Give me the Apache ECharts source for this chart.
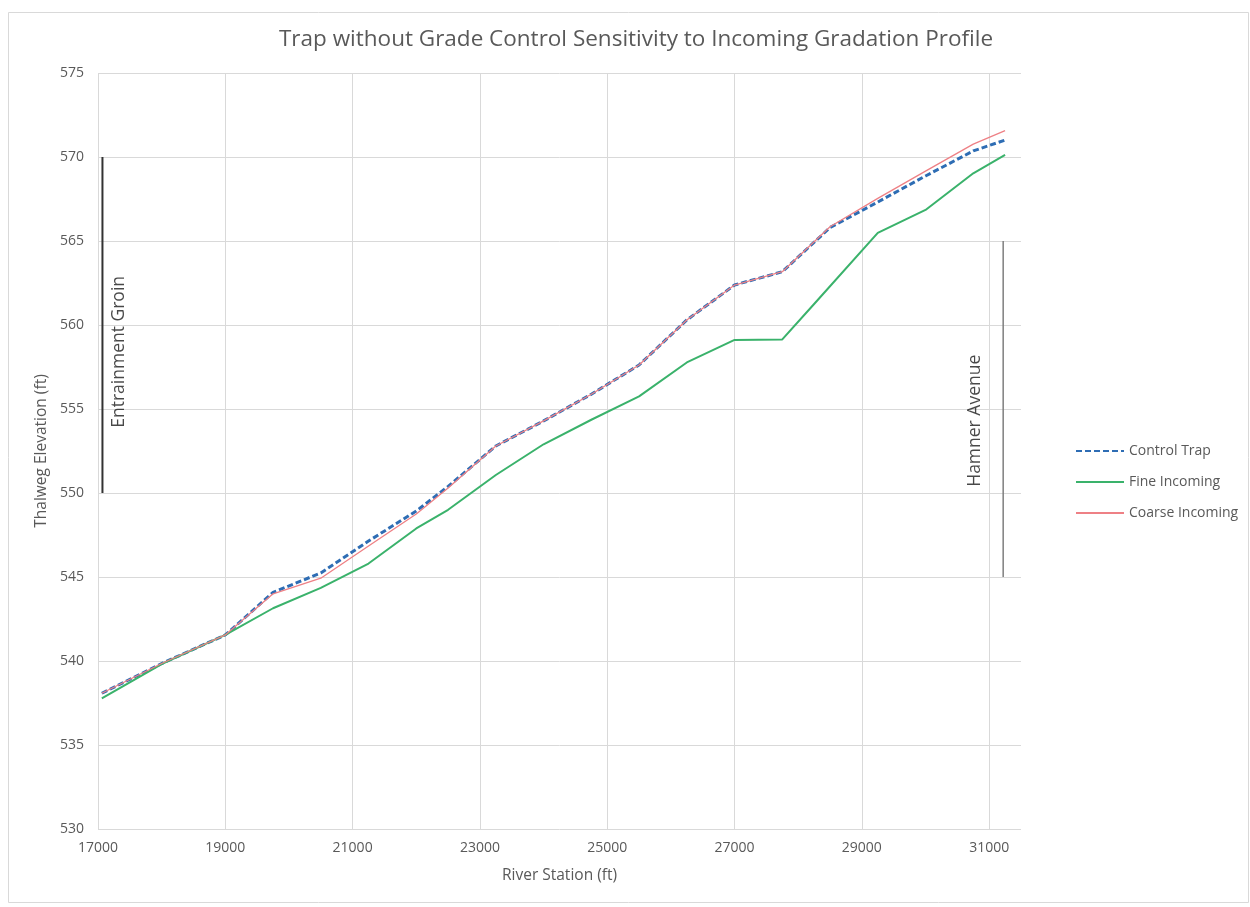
<!DOCTYPE html>
<html>
<head>
<meta charset="utf-8">
<script src="https://cdn.jsdelivr.net/npm/echarts@6/dist/echarts.min.js"></script>
<style>
html,body{margin:0;padding:0;background:#fff;}
#chart{width:1250px;height:907px;}
</style>
</head>
<body>
<div id="chart"></div>
<script>
var titleText = 'Trap without Grade Control Sensitivity to Incoming Gradation Profile';
var seriesNames = ['Control Trap', 'Fine Incoming', 'Coarse Incoming'];

var controlStations = [17060, 18000, 19000, 19750, 20500, 21250, 22000, 22500, 23250, 24000, 24750, 25500, 26250, 27000, 27750, 28500, 29250, 30000, 30750, 31250];
var controlTrap = [538.08, 539.85, 541.55, 544.09, 545.24, 547.14, 548.93, 550.39, 552.80, 554.29, 555.88, 557.62, 560.30, 562.38, 563.17, 565.80, 567.32, 568.87, 570.36, 571.01];

var fineStations = [17060, 18000, 19000, 19750, 20500, 21250, 22000, 22500, 23250, 24000, 24750, 25500, 26250, 27000, 27750, 28250, 29250, 30000, 30750, 31250];
var fineIncoming = [537.78, 539.82, 541.55, 543.14, 544.35, 545.80, 547.89, 549.00, 551.07, 552.90, 554.36, 555.75, 557.77, 559.11, 559.14, 561.25, 565.48, 566.85, 569.03, 570.12];

var coarseStations = [17060, 18000, 19000, 19750, 20500, 21250, 22000, 22500, 23250, 24000, 24750, 25500, 26250, 27000, 27750, 28500, 29250, 30000, 30750, 31250];
var coarseIncoming = [538.08, 539.85, 541.55, 544.00, 544.93, 546.85, 548.75, 550.30, 552.80, 554.29, 555.88, 557.62, 560.30, 562.38, 563.17, 565.85, 567.54, 569.16, 570.77, 571.57];

var groinStation = [17070, 17070];
var groinElev = [550, 570];
var groinLabel = 'Entrainment Groin';
var groinLabelPos = [17330, 558.4];

var hamnerStation = [31220, 31220];
var hamnerElev = [545, 565];
var hamnerLabel = 'Hamner Avenue';
var hamnerLabelPos = [30770, 554.3];

var xMin = 17000, xMax = 31500, xInterval = 2000;
var yMin = 530, yMax = 575, yInterval = 5;

function pairs(xs, ys) { return xs.map(function (x, i) { return [x, ys[i]]; }); }

var FONT = '"Open Sans", "Liberation Sans", sans-serif';
var chart = echarts.init(document.getElementById('chart'), null, {renderer: 'canvas'});
chart.setOption({
  backgroundColor: '#ffffff',
  animation: false,
  graphic: [{
    type: 'rect', silent: true,
    shape: {x: 8.5, y: 12.5, width: 1240, height: 890},
    style: {fill: 'none', stroke: '#d9d9d9', lineWidth: 1}
  }],
  title: {
    text: titleText,
    left: 631, top: 23, textAlign: 'center',
    textStyle: {fontFamily: FONT, fontSize: 22.5, fontWeight: 'normal', color: '#595959'}
  },
  legend: {
    data: seriesNames,
    orient: 'vertical',
    left: 1070, top: 439,
    itemWidth: 48, itemHeight: 14, itemGap: 17,
    itemStyle: {opacity: 0},
    textStyle: {fontFamily: FONT, fontSize: 14, color: '#595959'}
  },
  grid: {left: 98, right: 229, top: 73, bottom: 78, containLabel: false},
  xAxis: {
    type: 'value', min: xMin, max: xMax, interval: xInterval,
    name: 'River Station (ft)', nameLocation: 'middle', nameGap: 39,
    nameTextStyle: {fontFamily: FONT, fontSize: 15.5, color: '#595959'},
    axisLine: {show: false}, axisTick: {show: false},
    axisLabel: {fontFamily: FONT, fontSize: 14, color: '#595959', margin: 12, showMaxLabel: false,
      formatter: function (v) { return String(v); }},
    splitLine: {show: true, showMinLine: true, showMaxLine: false, lineStyle: {color: '#d9d9d9', width: 1}}
  },
  yAxis: {
    type: 'value', min: yMin, max: yMax, interval: yInterval,
    name: 'Thalweg Elevation (ft)', nameLocation: 'middle', nameGap: 48,
    nameTextStyle: {fontFamily: FONT, fontSize: 15.5, color: '#595959'},
    axisLine: {show: false}, axisTick: {show: false},
    axisLabel: {fontFamily: FONT, fontSize: 14, color: '#595959', margin: 14},
    splitLine: {show: true, showMinLine: true, showMaxLine: true, lineStyle: {color: '#d9d9d9', width: 1}}
  },
  series: [
    {
      name: seriesNames[0], type: 'line', data: pairs(controlStations, controlTrap),
      symbol: 'none', z: 3,
      lineStyle: {color: '#2E6DB4', width: 3, type: [6, 3]},
      itemStyle: {color: '#2E6DB4'}
    },
    {
      name: seriesNames[1], type: 'line', data: pairs(fineStations, fineIncoming),
      symbol: 'none', z: 3,
      lineStyle: {color: '#3AB26B', width: 2},
      itemStyle: {color: '#3AB26B'}
    },
    {
      name: seriesNames[2], type: 'line', data: pairs(coarseStations, coarseIncoming),
      symbol: 'none', z: 4,
      lineStyle: {color: '#EE8085', width: 1.3},
      itemStyle: {color: '#EE8085'}
    },
    {
      name: 'groin', type: 'line', data: pairs(groinStation, groinElev), symbol: 'none', silent: true,
      lineStyle: {color: '#333333', width: 2}, z: 5
    },
    {
      name: 'hamner', type: 'line', data: pairs(hamnerStation, hamnerElev), symbol: 'none', silent: true,
      lineStyle: {color: '#7f7f7f', width: 1.5}, z: 5
    },
    {
      name: 'labels', type: 'scatter', symbolSize: 0, silent: true, z: 6,
      data: [
        {value: groinLabelPos, label: {formatter: groinLabel}},
        {value: hamnerLabelPos, label: {formatter: hamnerLabel}}
      ],
      label: {show: true, position: 'inside', rotate: 90, fontFamily: FONT, fontSize: 17.5, color: '#1a1a1a'}
    }
  ]
});
</script>
</body>
</html>
